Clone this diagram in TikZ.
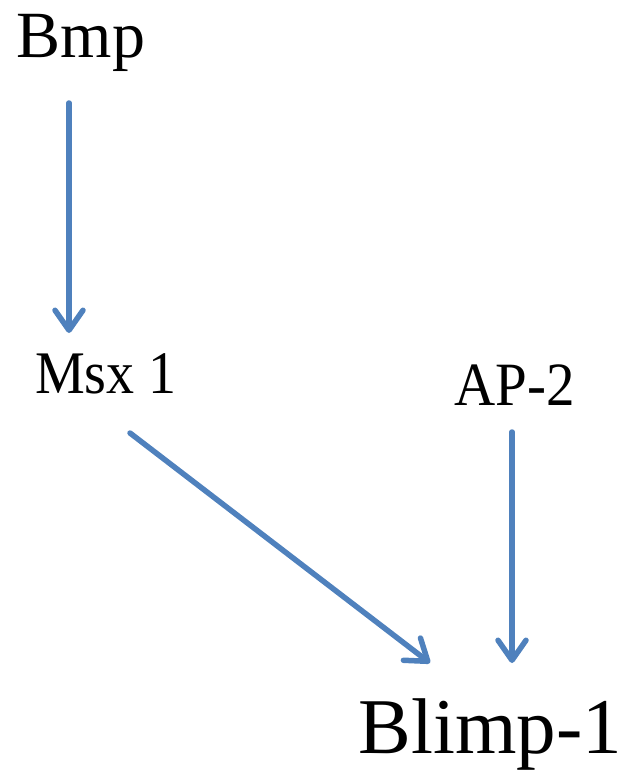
\documentclass[tikz,border=0pt]{standalone}
\usepackage{fontspec}
\setmainfont{Liberation Serif}
\usetikzlibrary{arrows.meta}
\definecolor{arrowblue}{HTML}{4F81BD}
\tikzset{
  lbl/.style={anchor=base, inner sep=0pt, text=black},
  arr/.style={draw=arrowblue, line width=5.5pt, line cap=round,
    -{Straight Barb[length=20pt, width=28pt, round]}}
}
\begin{document}
\begin{tikzpicture}[x=1pt, y=1pt]
\useasboundingbox (0,0) rectangle (630,-773);
\node[lbl, font=\fontsize{66}{70}\selectfont] (bmp) at (81,-58) {Bmp};
\node[lbl, font=\fontsize{56}{60}\selectfont, yscale=1.08] (msx) at (106,-393) {Msx 1};
\node[lbl, font=\fontsize{57}{60}\selectfont, yscale=1.08] (ap) at (515,-405) {AP-2};
\node[lbl, font=\fontsize{79}{84}\selectfont] (blimp) at (490.5,-753) {Blimp-1};
\draw[arr] ([shift={(-12,-45)}]bmp.base) -- ([shift={(-37,60)}]msx.base);
\draw[arr] ([shift={(24,-40)}]msx.base) -- ([shift={(-60.5,90)}]blimp.base);
\draw[arr] ([shift={(-3,-27)}]ap.base) -- ([shift={(21.5,90)}]blimp.base);
\end{tikzpicture}
\end{document}
